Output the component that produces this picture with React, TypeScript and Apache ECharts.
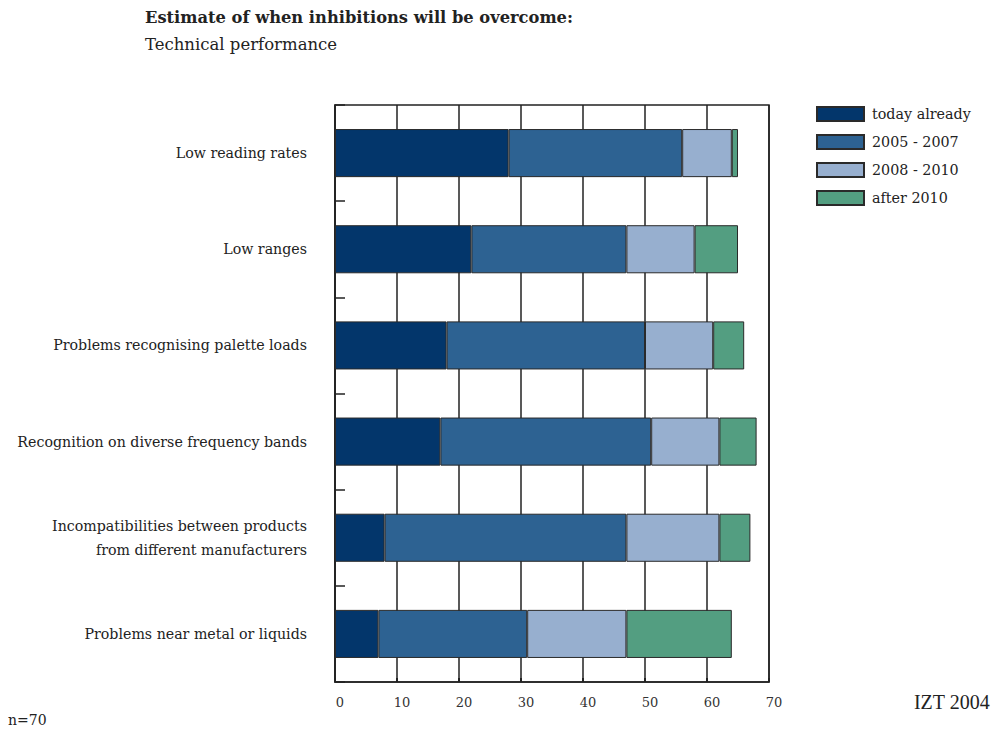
import React, { useEffect, useRef } from "react";
import * as echarts from "echarts";

const categories = [
  "Low reading rates",
  "Low ranges",
  "Problems recognising palette loads",
  "Recognition on diverse frequency bands",
  "Incompatibilities between products\nfrom different manufacturers",
  "Problems near metal or liquids",
];
const seriesNames = ["today already", "2005 - 2007", "2008 - 2010", "after 2010"];
const todayAlready = [28, 22, 18, 17, 8, 7];
const y2005to2007 = [28, 25, 32, 34, 39, 24];
const y2008to2010 = [8, 11, 11, 11, 15, 16];
const after2010 = [1, 7, 5, 6, 5, 17];
const xTicks = [0, 10, 20, 30, 40, 50, 60, 70];

const colors = ["#03366B", "#2D6292", "#97AFCF", "#539E81"];
const FONT = "DejaVu Serif";

export default function App() {
  const ref = useRef<HTMLDivElement>(null);
  useEffect(() => {
    if (!ref.current) return;
    const chart = echarts.init(ref.current, undefined, { renderer: "svg" });
    const values = [todayAlready, y2005to2007, y2008to2010, after2010];
    chart.setOption({
      animation: false,
      backgroundColor: "#fff",
      textStyle: { fontFamily: FONT },
      title: {
        text: "Estimate of when inhibitions will be overcome:",
        subtext: "Technical performance",
        left: 140,
        top: 4,
        itemGap: 11,
        textStyle: { fontFamily: FONT, fontSize: 16.3, fontWeight: "bold", color: "#222" },
        subtextStyle: { fontFamily: FONT, fontSize: 16.5, color: "#222" },
      },
      legend: {
        orient: "vertical",
        left: 811,
        top: 101,
        itemWidth: 47,
        itemHeight: 14,
        itemGap: 12,
        icon: "rect",
        data: seriesNames,
        textStyle: { fontFamily: FONT, fontSize: 14.3, lineHeight: 14, color: "#222", padding: [0, 0, 0, 3] },
      },
      grid: {
        left: 335,
        right: 226,
        top: 105,
        bottom: 52,
        show: true,
        borderColor: "#222",
        borderWidth: 1.5,
        backgroundColor: "transparent",
      },
      xAxis: {
        type: "value",
        min: 0,
        max: 70,
        interval: 10,
        axisLine: { show: true, lineStyle: { color: "#222", width: 1.5 } },
        axisTick: { show: true, inside: true, length: 4, lineStyle: { color: "#222", width: 2 } },
        splitLine: { show: true, lineStyle: { color: "#222", width: 1.5 } },
        axisLabel: {
          fontFamily: FONT,
          fontSize: 13,
          color: "#333",
          margin: 14,
          padding: [0, 0, 0, 10],
          formatter: (v: number) => (xTicks.includes(v) ? String(v) : ""),
        },
      },
      yAxis: {
        type: "category",
        inverse: true,
        data: categories,
        axisLine: { show: true, lineStyle: { color: "#222", width: 1.5 } },
        axisTick: { show: true, inside: true, length: 10, lineStyle: { color: "#222", width: 1.5 } },
        axisLabel: {
          fontFamily: FONT,
          fontSize: 14.2,
          color: "#222",
          margin: 28,
          lineHeight: 24,
        },
      },
      series: seriesNames.map((name, i) => ({
        name,
        type: "bar",
        stack: "total",
        barWidth: "50%",
        data: values[i],
        itemStyle: { color: colors[i], borderColor: "#2a2a2a", borderWidth: 1 },
      })),
      graphic: [
        {
          type: "text",
          right: 5,
          top: 692,
          style: { text: "IZT 2004", fontFamily: "Liberation Serif", fontSize: 20, fill: "#222" },
        },
        {
          type: "text",
          left: 8,
          top: 713,
          style: { text: "n=70", fontFamily: FONT, fontSize: 14, fill: "#222" },
        },
      ],
    });
    return () => chart.dispose();
  }, []);
  return <div ref={ref} style={{ width: 995, height: 734, position: "absolute", left: 0, top: 0 }} />;
}
